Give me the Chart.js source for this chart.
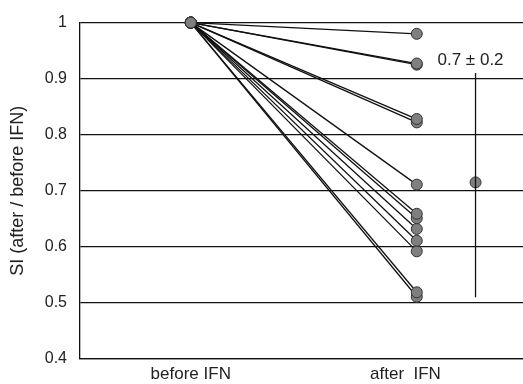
<!DOCTYPE html>
<html>
<head>
<meta charset="utf-8">
<script src="https://cdn.jsdelivr.net/npm/chart.js@4"></script>
<style>
  html, body { margin: 0; padding: 0; background: #fff; }
  #wrap { width: 523px; height: 384px; }
</style>
</head>
<body>
<div id="wrap"><canvas id="chart"></canvas></div>
<script>
// x positions of the two groups and where their labels sit
const groupPos = [1, 2];
const labelPos = [1, 1.95];
const groupLabels = ['before IFN', 'after  IFN'];

// SI before IFN is normalised to 1, values after IFN for each patient
const beforeValue = 1;
const afterValues = [0.98, 0.927, 0.925, 0.828, 0.822, 0.711, 0.659, 0.651, 0.632, 0.611, 0.592, 0.519, 0.511];

// mean +- SD marker
const meanPos = 2.26;
const meanValue = 0.715;
const errLow = 0.51;
const errHigh = 0.91;
const meanLabel = '0.7 \u00b1 0.2';

const yTicks = [0.4, 0.5, 0.6, 0.7, 0.8, 0.9, 1];

const FONT = '"Liberation Sans", Arial, sans-serif';

const pointStyle = {
    pointRadius: 5.5,
    pointBackgroundColor: '#7f7f7f',
    pointBorderColor: '#333',
    pointBorderWidth: 1
};

const datasets = afterValues.map(v => ({
    data: [{ x: groupPos[0], y: beforeValue }, { x: groupPos[1], y: v }],
    borderColor: '#111',
    borderWidth: 1.3,
    showLine: true,
    clip: false,
    ...pointStyle
}));

// error bar line
datasets.push({
    data: [{ x: meanPos, y: errLow }, { x: meanPos, y: errHigh }],
    borderColor: '#111',
    borderWidth: 1.3,
    showLine: true,
    pointRadius: 0,
    clip: false
});
// mean point
datasets.push({
    data: [{ x: meanPos, y: meanValue }],
    clip: false,
    ...pointStyle
});

// text label above the error bar
const meanText = {
    id: 'meanText',
    afterDraw(chart) {
        const { ctx, scales } = chart;
        ctx.save();
        ctx.font = '17px ' + FONT;
        ctx.fillStyle = '#222';
        ctx.textAlign = 'center';
        ctx.textBaseline = 'middle';
        ctx.fillText(meanLabel, scales.x.getPixelForValue(meanPos) - 5, scales.y.getPixelForValue(0.93) - 2);
        ctx.restore();
    }
};

new Chart(document.getElementById('chart'), {
    type: 'scatter',
    data: { datasets: datasets },
    options: {
        responsive: true,
        maintainAspectRatio: false,
        animation: false,
        layout: { autoPadding: false, padding: { top: 19, right: 0, bottom: 0, left: 0 } },
        plugins: {
            legend: { display: false },
            tooltip: { enabled: false }
        },
        scales: {
            x: {
                type: 'linear',
                min: 0.51,
                max: 2.47,
                afterFit: s => { s.height = 25; s.paddingLeft = 0; s.paddingRight = 0; },
                afterBuildTicks: s => { s.ticks = labelPos.map(v => ({ value: v })); },
                grid: { display: false, drawTicks: false },
                border: { display: true, color: '#111', width: 1.3 },
                ticks: {
                    padding: 5,
                    color: '#222',
                    maxRotation: 0,
                    font: { size: 17, family: FONT },
                    callback: (v) => groupLabels[labelPos.indexOf(v)]
                }
            },
            y: {
                min: 0.4,
                max: 1,
                afterFit: s => { s.width = 80; },
                afterBuildTicks: s => { s.ticks = yTicks.map(v => ({ value: v })); },
                grid: { color: '#111', lineWidth: 1.3, drawTicks: false },
                border: { display: true, color: '#111', width: 1.3 },
                title: {
                    display: true,
                    text: 'SI (after / before IFN)',
                    color: '#222',
                    padding: { top: 7, bottom: 2 },
                    font: { size: 18, family: FONT }
                },
                ticks: {
                    padding: 13,
                    color: '#222',
                    font: { size: 16, family: FONT },
                    callback: (v) => String(+v.toFixed(1))
                }
            }
        }
    },
    plugins: [meanText]
});
</script>
</body>
</html>
